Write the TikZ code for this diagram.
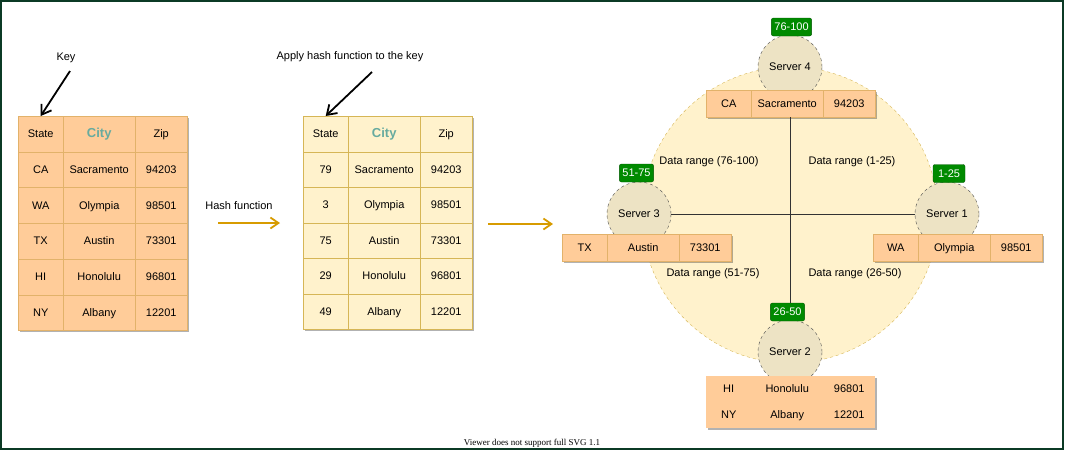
\documentclass[tikz,border=0pt]{standalone}
\usepackage{fontspec}
\setmainfont{Liberation Sans}
\newfontfamily\footfont{Liberation Serif}
\usetikzlibrary{arrows.meta,shadows}
\definecolor{peach}{HTML}{FFCC99}
\definecolor{peachline}{HTML}{E2B26A}
\definecolor{cream}{HTML}{FFF2CC}
\definecolor{creamline}{HTML}{D6B656}
\definecolor{tealtxt}{HTML}{67AB9F}
\definecolor{hashgold}{HTML}{D79B00}
\definecolor{srvfill}{HTML}{EDE3C4}
\definecolor{badgefill}{HTML}{008A00}
\definecolor{badgeline}{HTML}{005700}
\definecolor{framegreen}{HTML}{0B3A25}
\begin{document}
\begin{tikzpicture}[x=1pt,y=-1pt,
        font=\fontsize{11}{13}\selectfont,
        cell/.style={minimum height=#1,inner sep=0pt,anchor=north west,
            text height=8pt,text depth=0.6pt,
            drop shadow={shadow xshift=2pt,shadow yshift=-2pt,opacity=.3,fill=black}},
        orange cell/.style={cell=#1,draw=peachline,fill=peach},
        yellow cell/.style={cell=#1,draw=creamline,fill=cream},
        colS/.style={minimum width=45pt},
        colC/.style={minimum width=72pt},
        colZ/.style={minimum width=52pt},
        cityhead/.style={text=tealtxt,font=\fontsize{13}{15}\selectfont\bfseries},
        keyarrow/.style={line width=1.8pt,-{Straight Barb[length=9pt,width=12pt]}},
        hasharrow/.style={hashgold,line width=1.8pt,-{Straight Barb[length=8pt,width=11pt]}},
        ring/.style={circle,minimum size=296pt,draw=creamline,dash pattern=on 3pt off 3pt,fill=cream},
        server/.style={circle,minimum size=64pt,inner sep=0pt,draw=black!70,dashed,fill=srvfill,
            text height=8pt,text depth=0.6pt},
        badge/.style={rounded corners=2pt,draw=badgeline,fill=badgefill,text=white,
            minimum width=32pt,minimum height=18pt,inner xsep=3pt,inner ysep=0pt,
            text height=8pt,text depth=0.6pt},
        axis/.style={draw=black!80,line width=0.8pt}]
    \useasboundingbox (0,0) rectangle (1065,451);
    \draw [framegreen,line width=2pt] (1,1) rectangle (1063,449);

    % key table
    \node [orange cell=35.7pt,colS] (kS0) at (18,116) {State};
    \node [orange cell=35.7pt,colC,cityhead] (kC0) at (63,116) {City};
    \node [orange cell=35.7pt,colZ] (kZ0) at (135,116) {Zip};
    \foreach \st/\ci/\zp [count=\r] in {CA/Sacramento/94203,WA/Olympia/98501,
            TX/Austin/73301,HI/Honolulu/96801,NY/Albany/12201}{
        \node [orange cell=35.7pt,colS] (kS\r) at (18,{116+35.7*\r}) {\st};
        \node [orange cell=35.7pt,colC] (kC\r) at (63,{116+35.7*\r}) {\ci};
        \node [orange cell=35.7pt,colZ] (kZ\r) at (135,{116+35.7*\r}) {\zp};
    }
    \node (keyTxt) at (66,58) {Key};
    \coordinate (keyTail) at (70,71);
    \draw [keyarrow] (keyTail) -- (kS0.north);

    % hashed table
    \node [yellow cell=35.5pt,colS] (hS0) at (303,116) {State};
    \node [yellow cell=35.5pt,colC,cityhead] (hC0) at (348,116) {City};
    \node [yellow cell=35.5pt,colZ] (hZ0) at (420,116) {Zip};
    \foreach \st/\ci/\zp [count=\r] in {79/Sacramento/94203,3/Olympia/98501,
            75/Austin/73301,29/Honolulu/96801,49/Albany/12201}{
        \node [yellow cell=35.5pt,colS] (hS\r) at (303,{116+35.5*\r}) {\st};
        \node [yellow cell=35.5pt,colC] (hC\r) at (348,{116+35.5*\r}) {\ci};
        \node [yellow cell=35.5pt,colZ] (hZ\r) at (420,{116+35.5*\r}) {\zp};
    }
    \node (applyTxt) at (350,57) {Apply hash function to the key};
    \coordinate (applyTail) at (372,72);
    \draw [keyarrow] (applyTail) -- (hS0.north);

    \node (hashTxt) at (239,206) {Hash function};
    \coordinate (hashA) at (218,223);
    \coordinate (hashB) at (280,223);
    \draw [hasharrow] (hashA) -- (hashB);
    \coordinate (ringA) at (488,224);
    \coordinate (ringB) at (553,224);
    \draw [hasharrow] (ringA) -- (ringB);

    % ring of servers
    \node [ring] (ring) at (790,215) {};
    \node [server] (s4) at (790,67) {Server 4};
    \node [server] (s3) at (639,214) {Server 3};
    \node [server] (s1) at (947,214) {Server 1};
    \node [server] (s2) at (790,352) {Server 2};

    \node [orange cell=27pt,colS] (r4S) at (706,90) {CA};
    \node [orange cell=27pt,colC] (r4C) at (751,90) {Sacramento};
    \node [orange cell=27pt,colZ] (r4Z) at (823,90) {94203};
    \node [orange cell=27pt,colS] (r3S) at (562,234) {TX};
    \node [orange cell=27pt,colC] (r3C) at (607,234) {Austin};
    \node [orange cell=27pt,colZ] (r3Z) at (679,234) {73301};
    \node [orange cell=27pt,colS] (r1S) at (873,234) {WA};
    \node [orange cell=27pt,colC] (r1C) at (918,234) {Olympia};
    \node [orange cell=27pt,colZ] (r1Z) at (990,234) {98501};
    \foreach \st/\ci/\zp [count=\r] in {HI/Honolulu/96801,NY/Albany/12201}{
        \node [orange cell=26pt,colS,draw=none] (r2S\r) at (706,{350+26*\r}) {\st};
        \node [orange cell=26pt,colC,draw=none] (r2C\r) at (751,{350+26*\r}) {\ci};
        \node [orange cell=26pt,colZ,draw=none] (r2Z\r) at (823,{350+26*\r}) {\zp};
    }

    \node [badge] (b4) at (791.5,27) {76-100};
    \node [badge] (b3) at (636.5,173) {51-75};
    \node [badge] (b1) at (949,173.5) {1-25};
    \node [badge] (b2) at (787.5,312) {26-50};

    \draw [axis] (s3.east) -- (s1.west);
    \draw [axis] (ring.center |- r4C.south) -- (ring.center |- b2.north);

    \node (dr4) at (709,162) {Data range (76-100)};
    \node (dr1) at (852,162) {Data range (1-25)};
    \node (dr3) at (713,274) {Data range (51-75)};
    \node (dr2) at (855,274) {Data range (26-50)};

    \node [font=\footfont\fontsize{9}{10}\selectfont] (viewer) at (532,443)
        {Viewer does not support full SVG 1.1};
\end{tikzpicture}
\end{document}
